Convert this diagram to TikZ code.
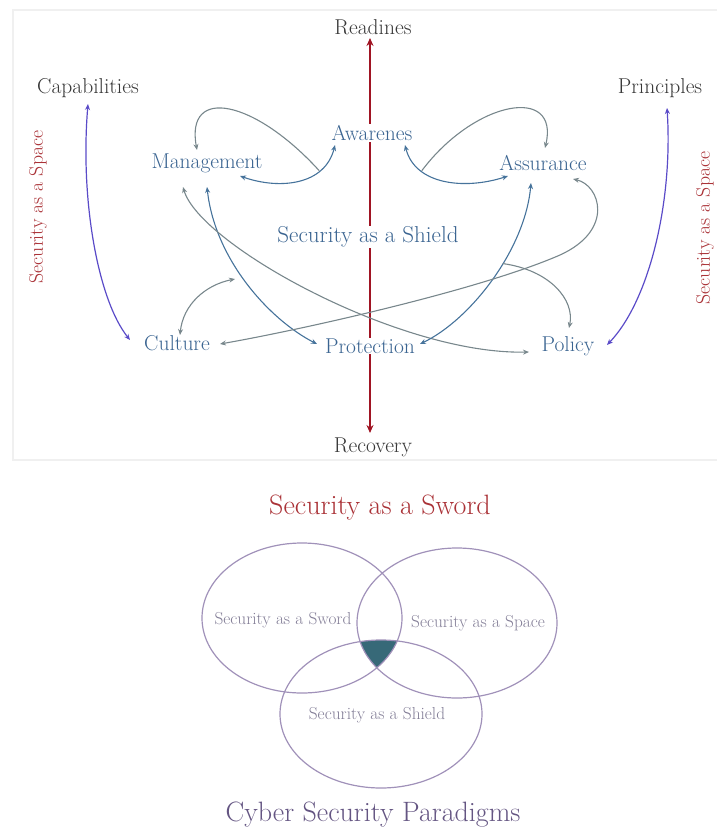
\documentclass[tikz,border=0pt]{standalone}
\usetikzlibrary{arrows.meta,backgrounds}
\definecolor{lblgray}{RGB}{55,55,55}
\definecolor{lblblue}{RGB}{58,100,145}
\definecolor{conngray}{RGB}{120,135,140}
\definecolor{connblue}{RGB}{70,115,155}
\definecolor{purp}{RGB}{90,75,200}
\definecolor{redline}{RGB}{160,20,35}
\definecolor{redtext}{RGB}{170,50,55}
\definecolor{vennline}{RGB}{160,145,185}
\definecolor{venntext}{RGB}{130,125,150}
\definecolor{vteal}{RGB}{55,105,120}
\definecolor{cybertext}{RGB}{100,85,130}
\begin{document}
\begin{tikzpicture}[x=1pt,y=-1pt,
  >={Stealth[length=6pt,width=5pt]},
  lbl/.style={font=\fontsize{21.5}{24}\selectfont, inner sep=1pt, fill=white},
  graylbl/.style={lbl, text=lblgray},
  bluelbl/.style={lbl, text=lblblue},
  conn/.style={line width=1.1pt, draw=conngray},
  bconn/.style={line width=1.1pt, draw=connblue},
  pconn/.style={line width=1.2pt, draw=purp},
  vennell/.style={draw=vennline, line width=1.2pt},
  venntxt/.style={font=\fontsize{17.3}{20}\selectfont, text=venntext, inner sep=1pt},
  bigtitle/.style={font=\fontsize{28}{32}\selectfont, inner sep=1pt}
]
\useasboundingbox (0,0) rectangle (717,830);

% labels
\node[graylbl] (rd) at (373,27) {Readines};
\node[graylbl] (rc) at (373,447) {Recovery};
\node[graylbl] (cap) at (88,88) {Capabilities};
\node[graylbl] (pri) at (660,88) {Principles};
\node[bluelbl] (aw) at (372,133) {Awarenes};
\node[bluelbl] (man) at (207,163) {Management};
\node[bluelbl] (ass) at (543,163) {Assurance};
\node[bluelbl, font=\fontsize{23}{26}\selectfont] (shield) at (368,237) {Security as a Shield};
\node[bluelbl] (cul) at (177,343) {Culture};
\node[bluelbl] (pro) at (370,346) {Protection};
\node[bluelbl] (pol) at (568,346) {Policy};
\node[lbl, text=redtext, font=\fontsize{19.7}{22}\selectfont, rotate=90] (spL) at (38,207) {Security as a Space};
\node[lbl, text=redtext, font=\fontsize{19.7}{22}\selectfont, rotate=90] (spR) at (705,228) {Security as a Space};

% anchor points tied to nodes
\coordinate (rdB) at ([shift={(-3,11)}]rd.center);
\coordinate (rcT) at ([shift={(-3,-14)}]rc.center);
\coordinate (capB) at ([shift={(0,16)}]cap.center);
\coordinate (priB) at ([shift={(7,20)}]pri.center);
\coordinate (culL) at ([shift={(-47,-3)}]cul.center);
\coordinate (culT) at ([shift={(3,-8)}]cul.center);
\coordinate (culR) at ([shift={(43,1)}]cul.center);
\coordinate (culUp) at ([shift={(58,-64)}]cul.center);
\coordinate (polR) at ([shift={(39,-1)}]pol.center);
\coordinate (polT) at ([shift={(1,-18)}]pol.center);
\coordinate (polL) at ([shift={(-39,6)}]pol.center);
\coordinate (awL) at ([shift={(-37,12)}]aw.center);
\coordinate (awR) at ([shift={(33,12)}]aw.center);
\coordinate (manR) at ([shift={(33,13)}]man.center);
\coordinate (manT) at ([shift={(-10,-13)}]man.center);
\coordinate (manB1) at ([shift={(-24,24)}]man.center);
\coordinate (manB2) at ([shift={(0,24)}]man.center);
\coordinate (assL) at ([shift={(-35,13)}]ass.center);
\coordinate (assT) at ([shift={(2,-15)}]ass.center);
\coordinate (assB) at ([shift={(-12,20)}]ass.center);
\coordinate (assR) at ([shift={(30,16)}]ass.center);
\coordinate (proL) at ([shift={(-53,-2)}]pro.center);
\coordinate (proR) at ([shift={(50,-2)}]pro.center);

% background: frame and red axis
\begin{scope}[on background layer]
  \draw[gray!12, line width=1.2pt] (720,460) -- (13,460) -- (13,10) -- (720,10);
  \draw[redline, line width=1.3pt, <->, >={Stealth[length=8pt,width=7pt]}] (rdB) -- (rcT);
\end{scope}

% purple side arrows
\draw[pconn, <->] (capB) .. controls (80,200) and (98,300) .. (culL);
\draw[pconn, <->] (priB) .. controls (673,200) and (650,300) .. (polR);

% upper connectors
\draw[bconn, <->] (manR) .. controls (280,190) and (325,185) .. coordinate[pos=0.72] (j1) (awL);
\draw[conn, ->] (j1) .. controls (255,100) and (185,85) .. (manT);
\draw[bconn, <->] (awR) .. controls (415,185) and (465,190) .. coordinate[pos=0.28] (j2) (assL);
\draw[conn, ->] (j2) .. controls (475,100) and (560,85) .. (assT);

% long connectors
\draw[bconn, <->] (manB2) .. controls (215,260) and (270,320) .. (proL);
\draw[conn, <->] (manB1) .. controls (200,245) and (400,355) .. (polL);
\draw[bconn, <->] (assB) .. controls (525,250) and (470,320) .. coordinate[pos=0.41] (j3) (proR);
\draw[conn, <->] (assR) .. controls (600,185) and (615,230) .. (560,255)
   .. controls (480,290) and (300,330) .. (culR);
\draw[conn, <->] (culT) .. controls (183,305) and (205,285) .. (culUp);
\draw[conn, ->] (j3) .. controls (550,270) and (575,300) .. (polT);

% Venn part
\node[bigtitle, text=redtext] (sword) at (380,508) {Security as a Sword};
\begin{scope}
  \clip (302,618) ellipse [x radius=100, y radius=75];
  \clip (457,623) ellipse [x radius=100, y radius=75];
  \fill[vteal] (381,714) ellipse [x radius=101, y radius=74];
\end{scope}
\draw[vennell] (302,618) ellipse [x radius=100, y radius=75];
\draw[vennell] (457,623) ellipse [x radius=100, y radius=75];
\draw[vennell] (381,714) ellipse [x radius=101, y radius=74];
\node[venntxt] (vsw) at (283,620) {Security as a Sword};
\node[venntxt] (vsp) at (478,623) {Security as a Space};
\node[venntxt] (vsh) at (377,715) {Security as a Shield};
\node[bigtitle, text=cybertext] (cyber) at (373,815) {Cyber Security Paradigms};
\end{tikzpicture}
\end{document}
